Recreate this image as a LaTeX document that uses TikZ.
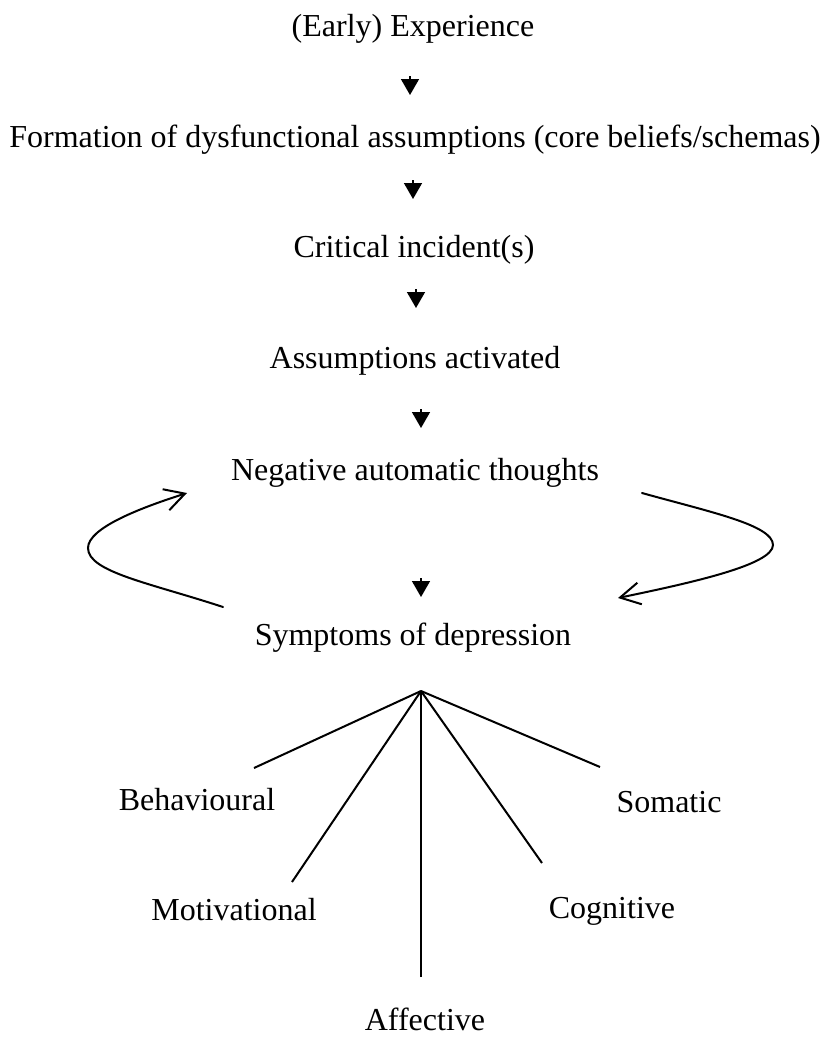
\documentclass[tikz,border=0pt]{standalone}
\usepackage{fontspec}
\setmainfont{Liberation Serif}
\usetikzlibrary{arrows.meta}
\tikzset{
  lbl/.style={anchor=base, inner sep=0pt, font=\fontsize{32}{34}\selectfont},
  smallarrow/.style={line width=1.5pt, -{Triangle[length=16pt,width=18pt]}},
  loopline/.style={line width=2pt, line cap=round, -{Straight Barb[length=20pt,width=22pt,line width=2pt]}},
  fan/.style={line width=2pt}
}
\begin{document}
\begin{tikzpicture}[x=1pt,y=-1pt]
\useasboundingbox[fill=white] (0,0) rectangle (826,1037);
% texts
\node[lbl] (exp) at (413,36) {(Early) Experience};
\node[lbl] (form) at (415,147) {Formation of dysfunctional assumptions (core beliefs/schemas)};
\node[lbl] (crit) at (414,257) {Critical incident(s)};
\node[lbl] (act) at (415,368) {Assumptions activated};
\node[lbl] (nat) at (415,480) {Negative automatic thoughts};
\node[lbl] (sym) at (413,645) {Symptoms of depression};
\node[lbl] (beh) at (197,810) {Behavioural};
\node[lbl] (som) at (669,812) {Somatic};
\node[lbl] (mot) at (234,920) {Motivational};
\node[lbl] (cog) at (612,918) {Cognitive};
\node[lbl] (aff) at (425,1030) {Affective};
% small arrows
\coordinate (a1t) at (410,76);  \coordinate (a1b) at (410,95);
\coordinate (a2t) at (413,180); \coordinate (a2b) at (413,199);
\coordinate (a3t) at (416,289); \coordinate (a3b) at (416,308);
\coordinate (a4t) at (421,409); \coordinate (a4b) at (421,428);
\coordinate (a5t) at (421,578); \coordinate (a5b) at (421,597);
\draw[smallarrow] (a1t) -- (a1b);
\draw[smallarrow] (a2t) -- (a2b);
\draw[smallarrow] (a3t) -- (a3b);
\draw[smallarrow] (a4t) -- (a4b);
\draw[smallarrow] (a5t) -- (a5b);
% loop arrows
\coordinate (ls) at (223,607); \coordinate (le) at (187,493);
\coordinate (rs) at (642,493); \coordinate (re) at (618,598);
\draw[loopline] (ls) .. controls (150,583) and (88,572) .. (88,548)
  .. controls (88,528) and (140,508) .. (le);
\draw[loopline] (rs) .. controls (710,512) and (773,525) .. (773,545)
  .. controls (773,565) and (690,583) .. (re);
% fan
\coordinate (apex) at (421,691);
\coordinate (fbeh) at (254,768);
\coordinate (fmot) at (292,882);
\coordinate (faff) at (421,977);
\coordinate (fcog) at (542,863);
\coordinate (fsom) at (600,767);
\draw[fan] (fbeh) -- (apex);
\draw[fan] (fmot) -- (apex);
\draw[fan] (faff) -- (apex);
\draw[fan] (fcog) -- (apex);
\draw[fan] (fsom) -- (apex);
\end{tikzpicture}
\end{document}
